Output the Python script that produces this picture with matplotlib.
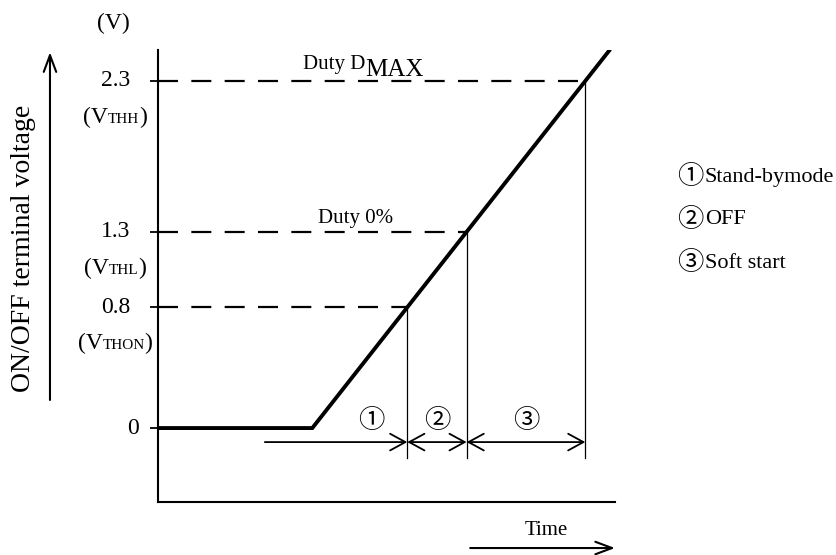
import matplotlib
matplotlib.use('Agg')
import matplotlib.pyplot as plt
import numpy as np
from matplotlib.offsetbox import TextArea, HPacker, AnnotationBbox

plt.rcParams['font.family'] = ['Liberation Serif', 'Noto Sans CJK JP', 'DejaVu Sans']

# ON/OFF terminal voltage vs. time (schematic)
ramp_t = [0.0, 1.3, 3.8]
ramp_v = [0.0, 0.0, 2.5]
levels = [0.0, 0.8, 1.3, 2.3]
level_text = ['0', '0.8', '1.3', '2.3']
level_sub = ['', 'THON', 'THL', 'THH']
phase_marks = ['\u2460', '\u2461', '\u2462']
phase_names = ['Stand-bymode', 'OFF', 'Soft start']

fig = plt.figure(figsize=(8.37, 5.55), dpi=100)
ax = fig.add_axes([158 / 837, 53 / 555, 457 / 837, 452 / 555])
ax.set_xlim(0, 3.85)
ax.set_ylim(-0.49, 2.505)
for s in ['top', 'right']:
    ax.spines[s].set_visible(False)
for s in ['left', 'bottom']:
    ax.spines[s].set_linewidth(1.5)
ax.set_xticks([])
ax.set_yticks(levels, labels=[''] * len(levels))
ax.tick_params(axis='y', direction='out', length=6, width=1.3)

# the voltage ramp
ax.plot(ramp_t, ramp_v, color='black', lw=2.8, solid_joinstyle='miter')

# threshold crossings
cross = np.interp(levels[1:], ramp_v[1:], ramp_t[1:])
row_y = -0.093
row_low = -0.199
for lv, tc in zip(levels[1:], cross):
    ax.plot([0, tc], [lv, lv], color='black', lw=1.6, dashes=(9, 6))
    ax.plot([tc, tc], [lv, row_low], color='black', lw=0.9)

# level labels
for lv, txt, sub in zip(levels, level_text, level_sub):
    if sub:
        ax.text(-0.092, lv, txt, transform=ax.get_yaxis_transform(),
                ha='center', va='center', fontsize=17)
        box = HPacker(children=[TextArea('(V', textprops=dict(fontsize=17)),
                                TextArea(sub, textprops=dict(fontsize=11)),
                                TextArea(')', textprops=dict(fontsize=17))],
                      align='baseline', pad=0, sep=0)
        ab = AnnotationBbox(box, (-0.094, lv), xycoords=ax.get_yaxis_transform(),
                            xybox=(0, -26), boxcoords='offset points',
                            box_alignment=(0.5, 0.5), frameon=False,
                            annotation_clip=False)
        ax.add_artist(ab)
    else:
        ax.text(-0.042, lv, txt, transform=ax.get_yaxis_transform(),
                ha='right', va='center', fontsize=17)

# phase arrows
starts = [cross[0] - 1.2, cross[0], cross[1]]
ends = list(cross)
styles = ['->', '<->', '<->']
for a, b, st in zip(starts, ends, styles):
    ax.annotate('', xy=(b, row_y), xytext=(a, row_y),
                arrowprops=dict(arrowstyle=st + ',head_length=1.1,head_width=0.6',
                                lw=1.3, color='black', shrinkA=0, shrinkB=0,
                                mutation_scale=10))
lab_x = [cross[0] - 0.3, (cross[0] + cross[1]) / 2, (cross[1] + cross[2]) / 2]
for x, m in zip(lab_x, phase_marks):
    ax.annotate(m, (x, row_y), xytext=(0, 15), textcoords='offset points',
                ha='center', va='center', fontsize=19)

# duty annotations
t1 = ax.annotate('Duty D', (1.22, 2.3), xytext=(0, 5), textcoords='offset points',
                 ha='left', va='bottom', fontsize=15)
ax.annotate('MAX', (1, 0), xycoords=t1, xytext=(0, -5), textcoords='offset points',
            ha='left', va='bottom', fontsize=18)
ax.annotate('Duty 0%', (1.35, 1.3), xytext=(0, 3), textcoords='offset points',
            ha='left', va='bottom', fontsize=15)

# axis captions
ax.text(-0.098, 1.058, '(V)', transform=ax.transAxes, ha='center', va='center',
        fontsize=17, clip_on=False)
ax.annotate('', xy=(-0.91, 2.49), xytext=(-0.91, 0.186),
            arrowprops=dict(arrowstyle='->,head_length=1.2,head_width=0.45', lw=1.5,
                            color='black', shrinkA=0, shrinkB=0, mutation_scale=10),
            annotation_clip=False)
fig.text(24 / 837, 1 - 248 / 555, 'ON/OFF terminal voltage', rotation=90,
         ha='center', va='center', fontsize=20)
ax.annotate('', xy=(3.85, -0.795), xytext=(2.63, -0.795),
            arrowprops=dict(arrowstyle='->,head_length=1.2,head_width=0.45', lw=1.5,
                            color='black', shrinkA=0, shrinkB=0, mutation_scale=10),
            annotation_clip=False)
ax.text(3.27, -0.68, 'Time', ha='center', va='center', fontsize=15, clip_on=False)

# legend of phases
for i, (m, name) in enumerate(zip(phase_marks, phase_names)):
    mk = fig.text(677 / 837, 1 - (177 + 43 * i) / 555, m, ha='left',
                  va='center', fontsize=19)
    fig.text(705 / 837, 1 - (177 + 43 * i) / 555, name, ha='left',
             va='center', fontsize=16)

fig.savefig('out.png', dpi=100)
